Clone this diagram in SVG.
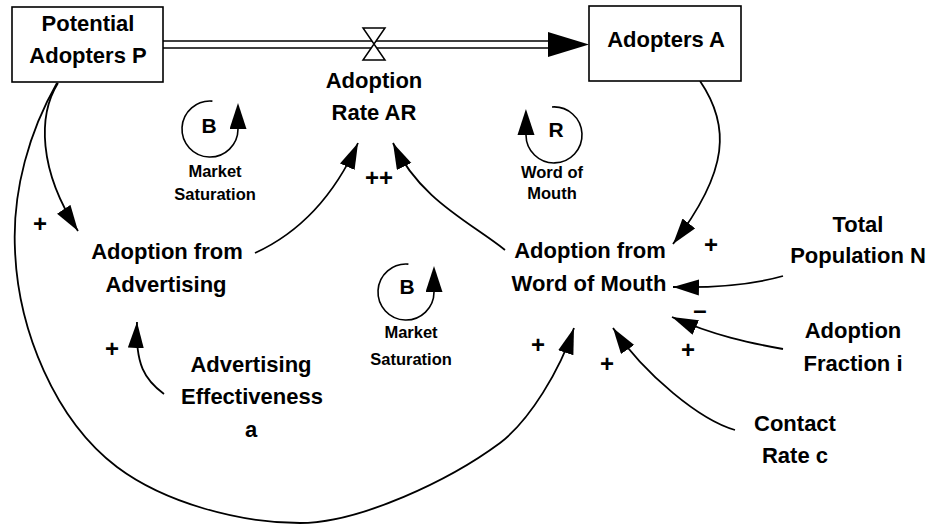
<svg xmlns="http://www.w3.org/2000/svg" width="929" height="525" viewBox="0 0 929 525">
  <defs>
    <!-- arrowhead whose tip sits on the path end -->
    <marker id="head" markerUnits="userSpaceOnUse" markerWidth="28" markerHeight="18" refX="26" refY="8" orient="auto">
      <path d="M0,0 L26,8 L0,16 Z" fill="#000"/>
    </marker>
    <!-- arrowhead whose base sits on the path end (loop symbols) -->
    <marker id="loopHead" markerUnits="userSpaceOnUse" markerWidth="28" markerHeight="18" refX="0" refY="8.5" orient="auto">
      <path d="M0,0 L26,8.5 L0,17 Z" fill="#000"/>
    </marker>
    <style>
      text { font-family: "Liberation Sans", Arial, Helvetica, sans-serif; font-weight: bold; fill: #000; text-anchor: middle; }
      .lbl { font-size: 22px; }
      .loopLetter { font-size: 21px; }
      .loopName { font-size: 16.5px; }
      .sign { font-size: 24px; }
      .stock { fill: #fff; stroke: #000; stroke-width: 1.6; }
      .link { fill: none; stroke: #000; stroke-width: 1.8; marker-end: url(#head); }
      .loop { fill: none; stroke: #000; stroke-width: 1.6; marker-end: url(#loopHead); }
      .pipe { fill: none; stroke: #000; stroke-width: 1.5; }
    </style>
  </defs>

  <rect width="929" height="525" fill="#fff"/>

  <!-- material flow: pipe, valve and head -->
  <g id="flow-pipe">
    <line class="pipe" x1="163" y1="41" x2="550" y2="41"/>
    <line class="pipe" x1="163" y1="48" x2="550" y2="48"/>
    <polygon points="548,32 589,44.5 548,57" fill="#000"/>
    <path d="M363 28 H385 L363 60 H385 Z" fill="#fff" stroke="#000" stroke-width="1.5"/>
  </g>

  <!-- causal links -->
  <g id="connectors">
    <path class="link" d="M58 83 C38 115, 38 170, 78 231"/>
    <path class="link" d="M57 83 C30 130, 12 190, 15 250 C18 330, 55 420, 117 467 C165 503, 240 523, 300 523 C360 523, 450 480, 500 443 C530 420, 560 370, 574 328"/>
    <path class="link" d="M255 253 C290 237, 330 205, 358 143"/>
    <path class="link" d="M505 250 C470 222, 420 200, 393 143"/>
    <path class="link" d="M700 81 C730 125, 730 170, 673 244"/>
    <path class="link" d="M783 276 C755 284, 720 288, 673 287"/>
    <path class="link" d="M783 349 C750 343, 715 336, 672 317"/>
    <path class="link" d="M735 430 C700 420, 645 375, 613 328"/>
    <path class="link" d="M164 394 C145 380, 135 365, 137 322"/>
  </g>

  <!-- link polarities -->
  <g id="polarities">
    <text class="sign" x="40" y="232">+</text>
    <text class="sign" x="112" y="357">+</text>
    <text class="sign" x="379" y="186">++</text>
    <text class="sign" x="711" y="253">+</text>
    <text class="sign" x="700" y="318">–</text>
    <text class="sign" x="688" y="358">+</text>
    <text class="sign" x="538" y="353">+</text>
    <text class="sign" x="607" y="372">+</text>
  </g>

  <g id="potential-adopters">
    <rect class="stock" x="12" y="7" width="151" height="75"/>
    <text class="lbl" x="88" y="31">Potential</text>
    <text class="lbl" x="88" y="63">Adopters P</text>
  </g>

  <g id="adopters">
    <rect class="stock" x="589" y="6" width="152" height="75"/>
    <text class="lbl" x="666" y="47">Adopters A</text>
  </g>

  <g id="adoption-rate">
    <text class="lbl" x="374" y="88">Adoption</text>
    <text class="lbl" x="374" y="120">Rate AR</text>
  </g>

  <g id="adoption-from-advertising">
    <text class="lbl" x="167" y="259">Adoption from</text>
    <text class="lbl" x="166" y="292">Advertising</text>
  </g>

  <g id="adoption-from-word-of-mouth">
    <text class="lbl" x="590" y="258">Adoption from</text>
    <text class="lbl" x="589" y="291">Word of Mouth</text>
  </g>

  <g id="advertising-effectiveness">
    <text class="lbl" x="251" y="372">Advertising</text>
    <text class="lbl" x="252" y="404">Effectiveness</text>
    <text class="lbl" x="251" y="437">a</text>
  </g>

  <g id="total-population">
    <text class="lbl" x="858" y="232">Total</text>
    <text class="lbl" x="858" y="263">Population N</text>
  </g>

  <g id="adoption-fraction">
    <text class="lbl" x="853" y="338">Adoption</text>
    <text class="lbl" x="853" y="371">Fraction i</text>
  </g>

  <g id="contact-rate">
    <text class="lbl" x="795" y="431">Contact</text>
    <text class="lbl" x="795" y="463">Rate c</text>
  </g>

  <!-- feedback loop markers -->
  <g id="loop-market-saturation-1">
    <path class="loop" d="M212.4 101.1 A28 28 0 1 0 238 129"/>
    <text class="loopLetter" x="209" y="133">B</text>
    <text class="loopName" x="215" y="177">Market</text>
    <text class="loopName" x="215" y="200">Saturation</text>
  </g>

  <g id="loop-word-of-mouth">
    <path class="loop" d="M552 107 A28 28 0 1 1 526 135"/>
    <text class="loopLetter" x="556" y="137">R</text>
    <text class="loopName" x="552" y="178">Word of</text>
    <text class="loopName" x="552" y="199">Mouth</text>
  </g>

  <g id="loop-market-saturation-2">
    <path class="loop" d="M408.4 264.1 A28 28 0 1 0 434 292"/>
    <text class="loopLetter" x="407" y="294">B</text>
    <text class="loopName" x="411" y="338">Market</text>
    <text class="loopName" x="411" y="365">Saturation</text>
  </g>
</svg>
